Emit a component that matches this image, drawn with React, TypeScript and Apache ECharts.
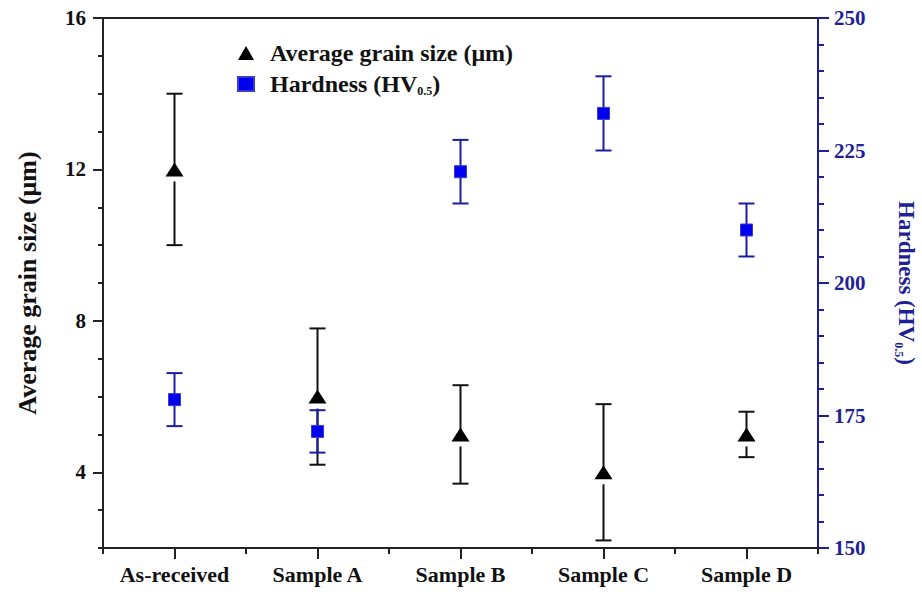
import React, { useEffect, useRef } from 'react';
import * as echarts from 'echarts';

const categories = ['As-received', 'Sample A', 'Sample B', 'Sample C', 'Sample D'];
const grainSize = [12, 6, 5, 4, 5];
const grainLow = [10, 4.2, 3.7, 2.2, 4.4];
const grainHigh = [14, 7.8, 6.3, 5.8, 5.6];
const hardness = [178, 172, 221, 232, 210];
const hardnessLow = [173, 168, 215, 225, 205];
const hardnessHigh = [183, 176, 227, 239, 215];
const grainTickLabels = [4, 8, 12, 16];

const grainName = 'Average grain size (μm)';
const hardName = 'Hardness (HV0.5)';

const FONT = 'Liberation Serif';
const NAVY = '#1f1f96';

export default function App() {
  const ref = useRef<HTMLDivElement>(null);
  useEffect(() => {
    if (!ref.current) return;
    const chart = echarts.init(ref.current, null, { renderer: 'svg' });

    const errData = (lo: number[], hi: number[], v: number[]) =>
      categories.map((_, i) => [i, lo[i], hi[i], v[i]]);

    const makeRender = (color: string, gap: number) => (params: any, api: any) => {
      const x = api.value(0);
      const top = api.coord([x, api.value(2)]);
      const bot = api.coord([x, api.value(1)]);
      const mid = api.coord([x, api.value(3)]);
      const hw = 8;
      const style = { stroke: color, lineWidth: 2 };
      return {
        type: 'group',
        children: [
          { type: 'line', shape: { x1: top[0] - hw, y1: top[1], x2: top[0] + hw, y2: top[1] }, style },
          { type: 'line', shape: { x1: bot[0] - hw, y1: bot[1], x2: bot[0] + hw, y2: bot[1] }, style },
          { type: 'line', shape: { x1: top[0], y1: top[1], x2: mid[0], y2: mid[1] }, style },
          { type: 'line', shape: { x1: mid[0], y1: mid[1] + gap, x2: bot[0], y2: bot[1] }, style },
        ],
      };
    };

    const subStyle = { fontSize: 12, fontWeight: 'bold', fontFamily: FONT, verticalAlign: 'bottom', lineHeight: 26 };

    chart.setOption({
      animation: false,
      backgroundColor: '#fff',
      grid: {
        left: 103, right: 104, top: 18, bottom: 44,
        outerBoundsMode: 'none', containLabel: false,
        show: true, borderColor: '#222', borderWidth: 2, backgroundColor: 'transparent',
      },
      legend: {
        left: 232, top: 35, orient: 'vertical', itemGap: 5,
        itemWidth: 16, itemHeight: 14,
        data: [
          { name: grainName, icon: 'triangle', itemStyle: { color: '#000' } },
          { name: hardName, icon: 'rect', itemStyle: { color: '#0000ee' } },
        ],
        formatter: (name: string) => (name === hardName ? 'Hardness (HV{sub|0.5})' : name),
        textStyle: {
          fontFamily: FONT, fontWeight: 'bold', fontSize: 24, color: '#111', lineHeight: 26,
          padding: [0, 0, 0, 11],
          rich: { sub: { ...subStyle, padding: [0, 0, 0, 0] } },
        },
      },
      xAxis: [
        {
          type: 'category', data: categories, position: 'bottom',
          axisLine: { show: true, lineStyle: { color: '#222', width: 2 } },
          axisTick: { show: true, alignWithLabel: true, length: 11, lineStyle: { color: '#222', width: 2 } },
          axisLabel: { interval: 0, fontFamily: FONT, fontWeight: 'bold', fontSize: 22, color: '#111', margin: 15 },
          splitLine: { show: false },
        },
        {
          type: 'category', data: categories, position: 'bottom',
          axisLine: { show: false },
          axisTick: { show: true, interval: 0, length: 6, lineStyle: { color: '#222', width: 2 } },
          axisLabel: { show: false },
          splitLine: { show: false },
        },
      ],
      yAxis: [
        {
          type: 'value', min: 2, max: 16, position: 'left',
          name: grainName, nameLocation: 'middle', nameGap: 63, nameRotate: 90,
          nameTextStyle: { fontFamily: FONT, fontWeight: 'bold', fontSize: 26, color: '#111' },
          axisLine: { show: true, lineStyle: { color: '#222', width: 2 } },
          axisTick: { show: true, length: 10, customValues: grainTickLabels, lineStyle: { color: '#222', width: 2 } },
          axisLabel: { customValues: grainTickLabels, fontFamily: FONT, fontWeight: 'bold', fontSize: 21, color: '#111', margin: 17 },
          splitLine: { show: false },
        },
        {
          type: 'value', min: 2, max: 16, interval: 1, position: 'left',
          axisLine: { show: false },
          axisTick: { show: true, length: 5, lineStyle: { color: '#222', width: 2 } },
          axisLabel: { show: false },
          splitLine: { show: false },
        },
        {
          type: 'value', min: 150, max: 250, interval: 25, position: 'right',
          name: 'Hardness (HV{sub|0.5})', nameLocation: 'middle', nameGap: 75, nameRotate: -90,
          nameTextStyle: {
            fontFamily: FONT, fontWeight: 'bold', fontSize: 23, color: NAVY, lineHeight: 26,
            rich: { sub: { ...subStyle, color: NAVY } },
          },
          axisLine: { show: true, lineStyle: { color: NAVY, width: 2 } },
          axisTick: { show: true, length: 11, lineStyle: { color: NAVY, width: 2 } },
          minorTick: { show: true, splitNumber: 5, length: 6, lineStyle: { color: NAVY, width: 2 } },
          axisLabel: { fontFamily: FONT, fontWeight: 'bold', fontSize: 21, color: NAVY, margin: 16 },
          splitLine: { show: false },
          minorSplitLine: { show: false },
        },
      ],
      series: [
        {
          type: 'custom', xAxisIndex: 0, yAxisIndex: 0, silent: true, z: 2,
          data: errData(grainLow, grainHigh, grainSize),
          encode: { x: 0, y: [1, 2] },
          renderItem: makeRender('#111', 12),
        },
        {
          type: 'custom', xAxisIndex: 0, yAxisIndex: 2, silent: true, z: 3,
          data: errData(hardnessLow, hardnessHigh, hardness),
          encode: { x: 0, y: [1, 2] },
          renderItem: makeRender('#1c1caa', 0),
        },
        {
          name: grainName, type: 'scatter', xAxisIndex: 0, yAxisIndex: 0, z: 4,
          symbol: 'triangle', symbolSize: [18, 14],
          itemStyle: { color: '#000', opacity: 1 },
          data: grainSize,
        },
        {
          name: hardName, type: 'scatter', xAxisIndex: 0, yAxisIndex: 2, z: 5,
          symbol: 'rect', symbolSize: 12,
          itemStyle: { color: '#0000ee', borderColor: '#3a3ad0', borderWidth: 1, opacity: 1 },
          data: hardness,
        },
      ],
    });
    return () => chart.dispose();
  }, []);

  return <div ref={ref} style={{ width: 922, height: 592, position: 'absolute', left: 0, top: 0 }} />;
}
